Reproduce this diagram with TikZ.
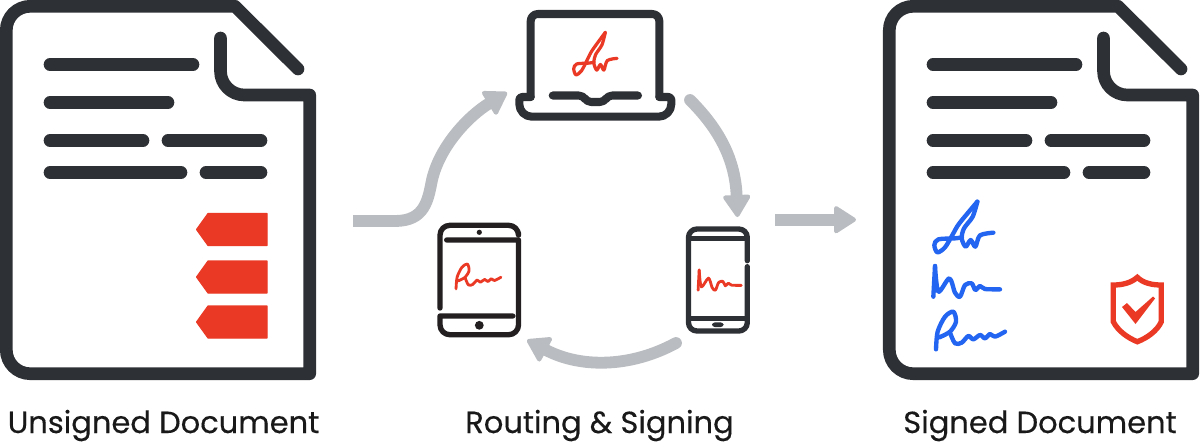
\documentclass[tikz,border=0pt]{standalone}
\usepackage{fontspec}
\setmainfont{Poppins}[FakeBold=0.35]
\usetikzlibrary{arrows.meta}
\definecolor{inkdark}{HTML}{2D3034}
\definecolor{inkblack}{HTML}{231F20}
\definecolor{flowgray}{HTML}{B9BCC0}
\definecolor{tagred}{HTML}{EA3A26}
\definecolor{signblue}{HTML}{2364F0}
\tikzset{
    docline/.style={draw=inkdark,line width=9pt,line cap=round,line join=round},
    deviceline/.style={draw=inkdark,line width=5.7pt,line cap=round,line join=round},
    tabletline/.style={draw=inkblack,line width=3.8pt,line cap=round,line join=round},
    phoneline/.style={draw=inkdark,line width=3.8pt,line cap=round,line join=round},
    flowarrow/.style={draw=flowgray,line width=8.4pt,line cap=round,-{Triangle[width=21pt,length=17pt,round,line width=3pt]}},
    tagshape/.style={fill=tagred,draw=tagred,line width=.8pt,line join=round},
    caption/.style={font=\fontsize{21.7}{26}\selectfont,text=black!90,anchor=base,inner sep=0pt},
    pics/docsheet/.style={code={
        \draw[docline] (220.5,38) [rounded corners=17pt] -- (220.5,95) [sharp corners] -- (309.7,95) -- (309.7,373.7) [rounded corners=17pt] -- (6.3,373.7) -- (6.3,6.3) [sharp corners] -- (235,6.3) -- (298,69);
        \draw[docline] (50,64.5) -- (193,64.5);
        \draw[docline] (50,102.5) -- (168,102.5);
        \draw[docline] (50,140.5) -- (143,140.5);
        \draw[docline] (168,140.5) -- (261,140.5);
        \draw[docline] (50,172.5) -- (181,172.5);
        \draw[docline] (206,172.5) -- (261,172.5);
    }},
    pics/redtag/.style={code={
        \draw[tagshape] (267,0) -- (208,0) -- (196.5,16) -- (208,32) -- (267,32) -- cycle;
    }},
    pics/signf/.style={code={
        \draw[pic actions,line cap=round,line join=round] plot[smooth,tension=.5] coordinates {(232,35) (178,100) (160,130) (135,172) (112,187) (103,165) (115,148) (165,145) (186,142)};
        \draw[pic actions,line cap=round,line join=round] plot[smooth,tension=.5] coordinates {(232,35) (218,80) (192,115) (185,145) (197,170) (212,150) (226,170) (240,136) (280,128)};
    }},
    pics/signm/.style={code={
        \draw[pic actions,line cap=round,line join=round] (100,320) -- (105,228);
        \draw[pic actions,line cap=round,line join=round] plot[smooth,tension=.5] coordinates {(105,228) (115,305) (148,265) (165,308) (180,320) (195,285) (215,280) (226,300) (240,288) (255,297) (300,298)};
    }},
    pics/signa/.style={code={
        \draw[pic actions,line cap=round,line join=round] plot[smooth,tension=.5] coordinates {(108,478) (113,425) (135,380) (160,365) (168,395) (150,425) (118,442)};
        \draw[pic actions,line cap=round,line join=round] plot[smooth,tension=.5] coordinates {(150,428) (165,460) (185,458) (205,438) (220,448) (240,435) (255,445) (270,432) (285,440) (315,425)};
    }}
}
\begin{document}
\begin{tikzpicture}[x=.025cm,y=-.025cm]
    \useasboundingbox (0,0) rectangle (1200,443);

    \pic (unsigned) at (0,0) {docsheet};
    \pic at (0,213.5) {redtag};
    \pic at (0,261) {redtag};
    \pic at (0,306) {redtag};
    \pic (signed) at (883,0) {docsheet};

    % laptop
    \draw[deviceline,rounded corners=5pt] (530.7,97) -- (530.7,14) -- (659.3,14) -- (659.3,97);
    \draw[deviceline,rounded corners=2pt] (530.7,97) -- (519.3,97) [rounded corners=9pt] -- (519.3,116.7) -- (671.3,116.7) [rounded corners=2pt] -- (671.3,97) -- (659.3,97);
    \draw[deviceline,rounded corners=3pt] (552.7,95.5) -- (583,95.5) -- (587,102) -- (604,102) -- (608,95.5) -- (638,95.5);
    \pic[draw=tagred,line width=2.3pt,xscale=.245,yscale=.28] at (548.5,22.5) {signf};

    % tablet
    \draw[tabletline,rounded corners=7pt] (440,308) -- (440,225.3) -- (518.5,225.3) -- (518.5,233);
    \draw[tabletline,rounded corners=7pt] (446.7,240) [sharp corners] -- (518.5,240) [rounded corners=7pt] -- (518.5,334.7) -- (440,334.7) [sharp corners] -- (440,316) -- (512.7,316);
    \fill[inkblack] (479.3,232.3) circle (2.6);
    \fill[inkblack] (479.3,325.3) circle (4.4);
    \pic[draw=tagred,line width=2pt,xscale=.217,yscale=.22] at (432.6,183.7) {signa};

    % phone
    \draw[phoneline,rounded corners=6pt] (747.3,260.7) -- (747.3,229) -- (688.5,229) -- (688.5,331) -- (747.3,331) -- (747.3,266.7);
    \draw[phoneline,line cap=butt] (688.5,238.3) -- (747.3,238.3);
    \draw[phoneline,line cap=butt] (688.5,318.3) -- (747.3,318.3);
    \fill[inkdark,rounded corners=2pt] (712,322.4) rectangle (723.5,327);
    \pic[draw=tagred,line width=2pt,xscale=.216,yscale=.22] at (676.5,219.8) {signm};

    % signatures on the signed document
    \pic[draw=signblue,line width=3.1pt,scale=1/3] at (900,190) {signf};
    \pic[draw=signblue,line width=3.1pt,scale=1/3] at (900,190) {signm};
    \pic[draw=signblue,line width=3.1pt,scale=1/3] at (900,190) {signa};

    % shield
    \draw[tagshape,fill=none,line width=3.8pt,line join=miter] (1137.3,277.3) .. controls (1131,283) and (1122,285) .. (1113.3,285) -- (1113.3,321.7) .. controls (1118,331) and (1128,338) .. (1137.3,341.7) .. controls (1147,338) and (1157,331) .. (1161.3,321.7) -- (1161.3,285) .. controls (1152,285) and (1143,283) .. (1137.3,277.3) -- cycle;
    \fill[tagred] (1122,307) -- (1127,303) -- (1135.5,312) -- (1153,296.5) -- (1155,298.5) -- (1135.5,324) -- cycle;

    % flow
    \coordinate (flowstart) at (353,221);
    \coordinate (laptopin) at (507,92.5);
    \coordinate (laptopout) at (690,100);
    \coordinate (phonein) at (737.5,217);
    \coordinate (phoneout) at (676,343);
    \coordinate (tabletin) at (527,340);
    \coordinate (signedout) at (775,219.7);
    \coordinate (signedin) at (856,219.7);
    \draw[flowarrow,line cap=butt] (flowstart) -- (395,221) .. controls (425,221) and (428,200) .. (432,180) .. controls (440,145) and (470,115) .. (laptopin);
    \draw[flowarrow] (laptopout) .. controls (715,125) and (735,155) .. (phonein);
    \draw[flowarrow] (phoneout) .. controls (630,368) and (580,368) .. (tabletin);
    \draw[flowarrow,line cap=butt] (signedout) -- (signedin);

    \node[caption] (unsignedlabel) at (163.5,433) {Unsigned Document};
    \node[caption] (routinglabel) at (599.5,433) {Routing \& Signing};
    \node[caption] (signedlabel) at (1040,433) {Signed Document};
\end{tikzpicture}
\end{document}
